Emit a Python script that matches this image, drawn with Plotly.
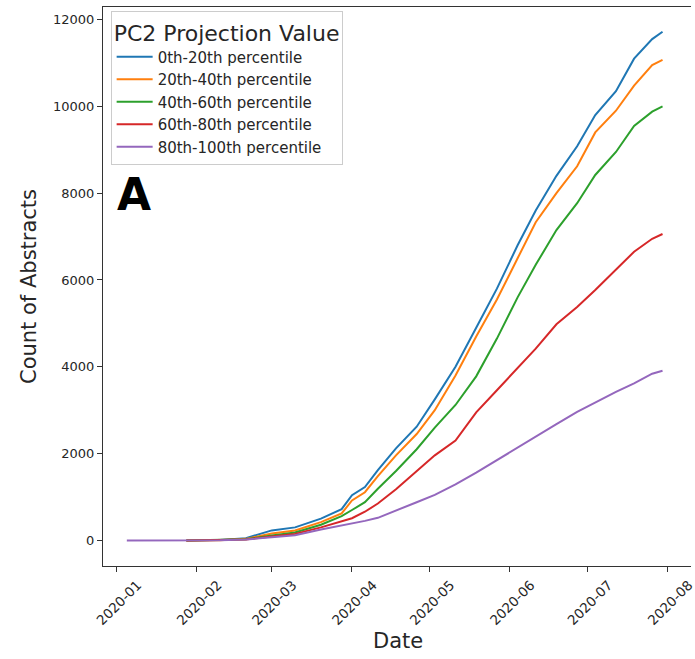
import plotly.graph_objects as go

dates = ["2020-01-05", "2020-01-28", "2020-02-10", "2020-02-20", "2020-03-01", "2020-03-10",
         "2020-03-20", "2020-03-28", "2020-04-01", "2020-04-06", "2020-04-11", "2020-04-18",
         "2020-04-26", "2020-05-03", "2020-05-11", "2020-05-19", "2020-05-27", "2020-06-04",
         "2020-06-11", "2020-06-19", "2020-06-27", "2020-07-04", "2020-07-12", "2020-07-19",
         "2020-07-26", "2020-07-30"]

p0_20 = [None, 0, 10, 50, 230, 300, 500, 720, 1040, 1230, 1620, 2120, 2620, 3250, 4000, 4900,
         5800, 6800, 7600, 8400, 9080, 9800, 10350, 11100, 11550, 11720]
p20_40 = [None, 0, 5, 35, 160, 230, 420, 620, 920, 1110, 1480, 1960, 2450, 3000, 3800, 4700,
          5550, 6500, 7330, 8000, 8620, 9400, 9900, 10480, 10950, 11070]
p40_60 = [None, 0, 5, 25, 115, 180, 360, 560, 700, 880, 1190, 1600, 2100, 2600, 3120, 3780,
          4650, 5600, 6350, 7150, 7770, 8420, 8950, 9550, 9880, 10000]
p60_80 = [None, 0, 5, 20, 90, 150, 300, 440, 510, 660, 850, 1180, 1600, 1960, 2300, 2950,
          3460, 3980, 4420, 4980, 5380, 5770, 6250, 6650, 6950, 7060]
p80_100 = [0, 0, 5, 20, 70, 120, 250, 340, 385, 450, 520, 680, 880, 1050, 1290, 1560,
           1850, 2150, 2400, 2680, 2960, 3180, 3420, 3620, 3840, 3910]

series_names = ["0th-20th percentile", "20th-40th percentile", "40th-60th percentile",
                "60th-80th percentile", "80th-100th percentile"]
series_values = [p0_20, p20_40, p40_60, p60_80, p80_100]
colors = ["#1f77b4", "#ff7f0e", "#2ca02c", "#d62728", "#9467bd"]

tick_vals = ["2020-01-01", "2020-02-01", "2020-03-01", "2020-04-01", "2020-05-01",
             "2020-06-01", "2020-07-01", "2020-08-01"]
tick_text = ["2020-01", "2020-02", "2020-03", "2020-04", "2020-05", "2020-06", "2020-07", "2020-08"]
y_ticks = [0, 2000, 4000, 6000, 8000, 10000, 12000]
y_tick_text = ["0", "2000", "4000", "6000", "8000", "10000", "12000"]

fig = go.Figure()
for name, vals, col in zip(series_names, series_values, colors):
    fig.add_trace(go.Scatter(x=dates, y=vals, mode="lines", name=name,
                             line=dict(color=col, width=2), connectgaps=False))

font = "DejaVu Sans, sans-serif"
fig.update_layout(
    width=695, height=659,
    margin=dict(l=103, r=0, t=7, b=93),
    paper_bgcolor="white", plot_bgcolor="white",
    font=dict(family=font, color="#262626"),
    showlegend=True,
    legend=dict(
        x=0.013, y=0.993, xanchor="left", yanchor="top",
        bgcolor="rgba(255,255,255,0.8)", bordercolor="#cccccc", borderwidth=1,
        font=dict(family=font, size=15, color="#262626"),
        title=dict(text="PC2 Projection Value", font=dict(family=font, size=22, color="#262626")),
        itemwidth=36,
    ),
    xaxis=dict(
        type="date", range=["2019-12-26 19:00", "2020-08-10"],
        tickmode="array", tickvals=tick_vals, ticktext=tick_text, tickangle=-45,
        ticks="outside", ticklen=5, tickwidth=1, tickcolor="#333333",
        tickfont=dict(family=font, size=13.5, color="#262626"),
        showline=True, linecolor="#333333", linewidth=1, mirror=True,
        showgrid=False, zeroline=False, ticklabelshift=21, ticklabeloverflow="allow",
    ),
    yaxis=dict(
        range=[-590, 12290],
        tickmode="array", tickvals=y_ticks, ticktext=y_tick_text,
        ticks="outside", ticklen=5, tickwidth=1, tickcolor="#333333",
        tickfont=dict(family=font, size=13, color="#262626"),
        showline=True, linecolor="#333333", linewidth=1,
        showgrid=False, zeroline=False,
        title=dict(text="Count of Abstracts", font=dict(family=font, size=21, color="#262626"), standoff=10),
    ),
)

fig.add_annotation(text="Date", xref="paper", yref="paper", x=0.502, y=-0.134,
                   xanchor="center", yanchor="middle", showarrow=False,
                   font=dict(family=font, size=21, color="#262626"))

fig.add_annotation(text="<b>A</b>", xref="paper", yref="paper", x=0.052, y=0.664,
                   xanchor="center", yanchor="middle", showarrow=False,
                   font=dict(family=font, size=44, color="black"))

fig.write_html("out.html")
